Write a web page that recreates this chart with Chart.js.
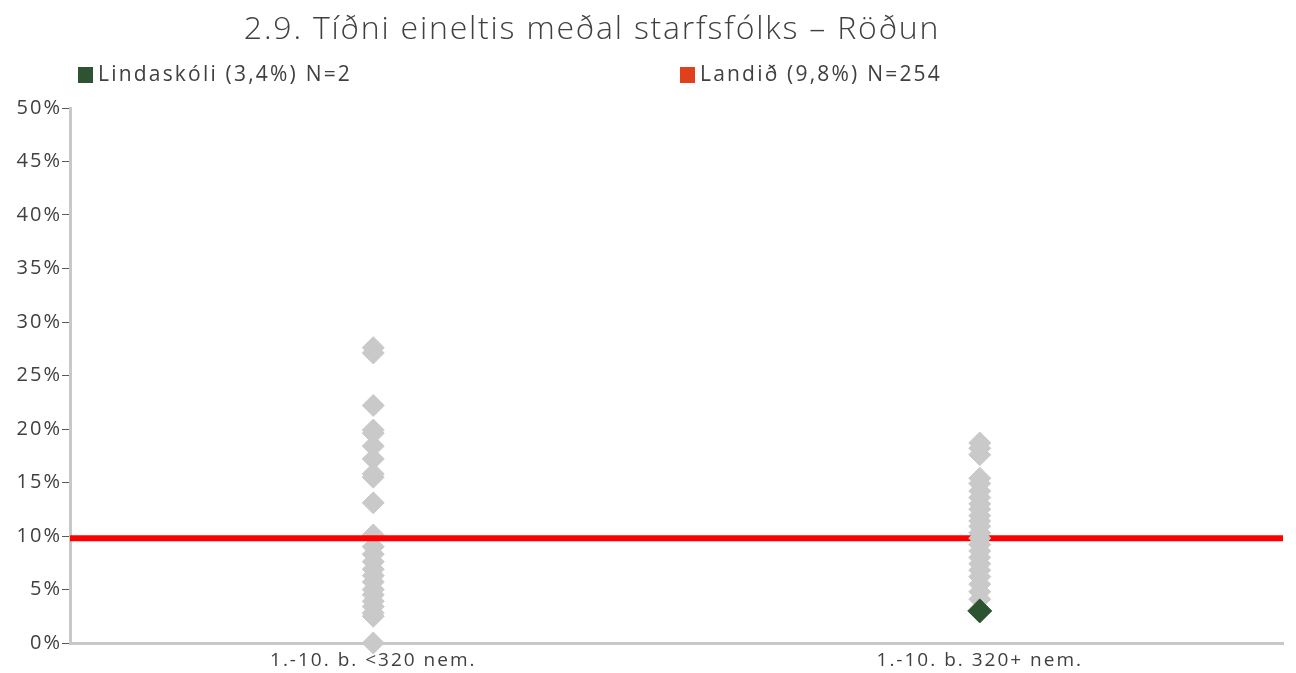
<!DOCTYPE html>
<html>
<head>
<meta charset="utf-8">
<script src="https://cdn.jsdelivr.net/npm/chart.js@4/dist/chart.umd.min.js"></script>
<style>
  html, body { margin: 0; padding: 0; background: #fff; }
  #wrap { position: relative; width: 1296px; height: 673px; }
  #title { position: absolute; left: 0; top: 5px; width: 1184px; text-align: center;
           font-family: "Open Sans", sans-serif; font-weight: 300; font-size: 32px; color: #404040; letter-spacing: 1.8px; }
  .leg { position: absolute; top: 59px; font-family: "Open Sans", sans-serif; font-size: 21px; color: #404040; letter-spacing: 2.2px; }
  .sw { display: inline-block; width: 15px; height: 16px; margin-right: 5px; vertical-align: -2px; }
  canvas { position: absolute; left: 0; top: 0; }
</style>
</head>
<body>
<div id="wrap">
  <canvas id="c" width="1296" height="673"></canvas>
  <div id="title">2.9. Tíðni eineltis meðal starfsfólks – Röðun</div>
  <div class="leg" style="left:78px"><span class="sw" style="background:#2e5330"></span>Lindaskóli (3,4%) N=2</div>
  <div class="leg" style="left:680px"><span class="sw" style="background:#e0401c"></span>Landið (9,8%) N=254</div>
</div>
<script>
const categories = ['1.-10. b. <320 nem.', '1.-10. b. 320+ nem.'];
const smallSchools = [27.6, 27.1, 22.2, 19.9, 19.6, 18.4, 17.2, 15.8, 15.5, 13.1, 10.1, 9.0, 8.3, 7.6, 6.9, 6.3, 5.7, 5.0, 4.5, 3.9, 3.4, 2.8, 2.5, 0.0];
const largeSchools = [18.7, 18.2, 17.6, 15.4, 14.9, 14.2, 13.6, 13.0, 12.5, 11.9, 11.4, 10.9, 10.3, 9.8, 9.2, 8.6, 8.0, 7.4, 6.8, 6.2, 5.5, 4.8, 4.1];
const lindaskoliCategory = categories[1];
const lindaskoliValue = [3.0];
const landidValue = 9.8;
const yTicks = [0, 5, 10, 15, 20, 25, 30, 35, 40, 45, 50];

const gray = '#c9c9c9';

const spacing = {
  id: 'spacing',
  beforeUpdate(chart) { chart.ctx.letterSpacing = '2px'; },
  beforeLayout(chart) { chart.ctx.letterSpacing = '2px'; },
  beforeDraw(chart) { chart.ctx.letterSpacing = '2px'; }
};

function grayDataset(label, cat, values, order) {
  return {
    label: label,
    data: values.map(v => ({x: cat, y: v})),
    pointStyle: 'rectRot',
    pointRadius: 11,
    pointHoverRadius: 11,
    backgroundColor: gray,
    borderColor: gray,
    borderWidth: 1,
    clip: false,
    order: order
  };
}

new Chart(document.getElementById('c'), {
  type: 'scatter',
  plugins: [spacing],
  data: {
    datasets: [
      grayDataset('<320', categories[0], smallSchools, 4),
      {
        type: 'line',
        label: 'Landið',
        xAxisID: 'x2',
        data: [{x: 0, y: landidValue}, {x: 1, y: landidValue}],
        borderColor: '#ff0000',
        borderWidth: 6,
        pointRadius: 0,
        fill: false,
        order: 3
      },
      grayDataset('320+', categories[1], largeSchools, 2),
      {
        label: 'Lindaskóli',
        data: lindaskoliValue.map(v => ({x: lindaskoliCategory, y: v})),
        pointStyle: 'rectRot',
        pointRadius: 12,
        pointHoverRadius: 12,
        backgroundColor: '#2e5330',
        borderColor: '#2e5330',
        borderWidth: 1,
        clip: false,
        order: 1
      }
    ]
  },
  options: {
    responsive: false,
    animation: false,
    layout: { padding: { top: 108, right: 9, left: 0, bottom: 0 } },
    plugins: { legend: { display: false }, title: { display: false }, tooltip: { enabled: false } },
    scales: {
      x: {
        type: 'category',
        labels: categories,
        offset: true,
        grid: { display: true, drawOnChartArea: false, drawTicks: false },
        border: { color: '#c8c8c8', width: 3 },
        ticks: { color: '#404040', font: { family: 'Open Sans', size: 19 }, padding: 6 },
        afterFit: s => { s.height = 30; }
      },
      x2: { type: 'linear', min: 0, max: 1, display: false },
      y: {
        min: 0, max: 50,
        afterBuildTicks: s => { s.ticks = yTicks.map(v => ({value: v})); },
        grid: { drawOnChartArea: false, drawTicks: true, tickLength: 8, color: '#595959', tickWidth: 1 },
        border: { color: '#c8c8c8', width: 3 },
        ticks: { color: '#404040', font: { family: 'Open Sans', size: 20 }, padding: 0, callback: v => v + '%' },
        afterFit: s => { s.width = 70; }
      }
    }
  }
});
</script>
</body>
</html>
